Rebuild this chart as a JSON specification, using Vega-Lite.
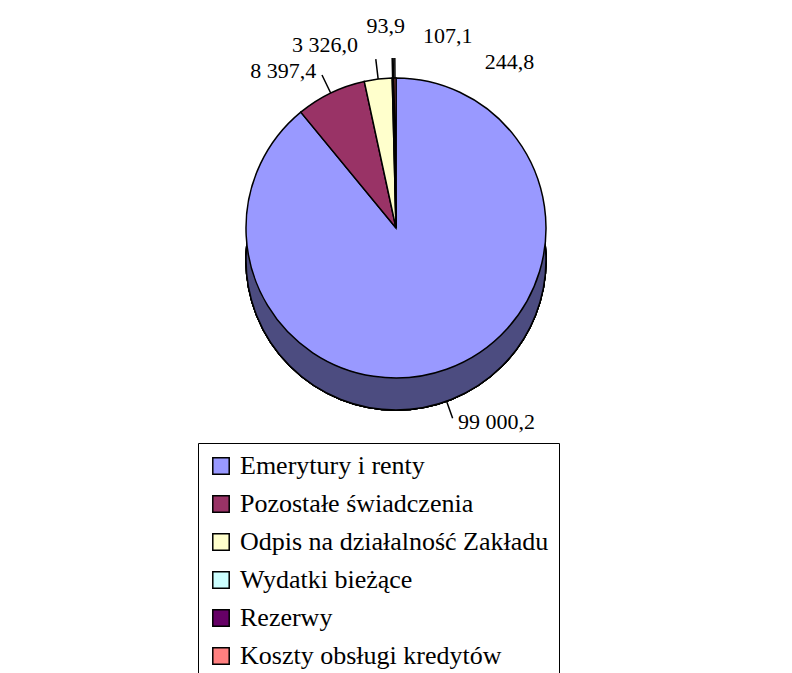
{
  "$schema": "https://vega.github.io/schema/vega-lite/v6.json",
  "width": 792,
  "height": 456,
  "padding": 0,
  "background": "white",
  "data": {"values": [
    {"name": "Emerytury i renty", "value": 99000.2, "order": 1},
    {"name": "Pozostałe świadczenia", "value": 8397.4, "order": 2},
    {"name": "Odpis na działalność Zakładu", "value": 3326.0, "order": 3},
    {"name": "Wydatki bieżące", "value": 93.9, "order": 4},
    {"name": "Rezerwy", "value": 107.1, "order": 5},
    {"name": "Koszty obsługi kredytów", "value": 244.8, "order": 6}
  ]},
  "transform": [
    {"window": [{"op": "sum", "field": "value", "as": "cum"}], "sort": [{"field": "order"}], "frame": [null, 0]},
    {"joinaggregate": [{"op": "sum", "field": "value", "as": "total"}]},
    {"calculate": "(datum.cum - datum.value / 2) / datum.total", "as": "mid"}
  ],
  "layer": [
    {
      "mark": {"type": "arc", "outerRadius": 150, "yOffset": 32, "fill": "#4C4C80", "stroke": "black", "strokeWidth": 1.5},
      "encoding": {}
    },
    {
      "mark": {"type": "arc", "outerRadius": 150, "stroke": "black", "strokeWidth": 1.5},
      "encoding": {
        "theta": {"field": "value", "type": "quantitative", "stack": true},
        "order": {"field": "order", "type": "quantitative"},
        "color": {
          "field": "name", "type": "nominal",
          "scale": {
            "domain": ["Emerytury i renty", "Pozostałe świadczenia", "Odpis na działalność Zakładu", "Wydatki bieżące", "Rezerwy", "Koszty obsługi kredytów"],
            "range": ["#9999FF", "#993366", "#FFFFCC", "#CCFFFF", "#660066", "#FF8080"]
          },
          "legend": {
            "orient": "none", "legendX": 198, "legendY": 443, "title": null,
            "strokeColor": "black", "fillColor": "white", "padding": 10,
            "symbolType": "square", "symbolSize": 270, "symbolStrokeColor": "black", "symbolStrokeWidth": 1.5,
            "labelFont": "Liberation Serif", "labelFontSize": 26, "labelColor": "black",
            "rowPadding": 12, "labelOffset": 6, "labelLimit": 0
          }
        }
      }
    },
    {
      "transform": [{"filter": "datum.order > 1"}],
      "mark": {"type": "arc", "innerRadius": 150, "outerRadius": 170, "stroke": "black", "strokeWidth": 1.5, "fill": null},
      "encoding": {
        "theta": {"field": "mid", "type": "quantitative", "scale": {"domain": [0, 1]}},
        "theta2": {"field": "mid"}
      }
    },
    {
      "transform": [{"filter": "datum.order == 1"}],
      "mark": {"type": "arc", "innerRadius": 150, "outerRadius": 168, "yOffset": 32, "stroke": "black", "strokeWidth": 1.5, "fill": null},
      "encoding": {
        "theta": {"field": "mid", "type": "quantitative", "scale": {"domain": [0, 1]}},
        "theta2": {"field": "mid"}
      }
    },
    {
      "transform": [{"filter": "datum.order == 1"}],
      "mark": {"type": "text", "radius": 172, "yOffset": 32, "align": "left", "baseline": "middle", "dx": 4, "font": "Liberation Serif", "fontSize": 22, "color": "black"},
      "encoding": {
        "theta": {"field": "mid", "type": "quantitative", "scale": {"domain": [0, 1]}},
        "text": {"field": "value", "type": "quantitative", "format": ",.1f"}
      }
    },
    {
      "transform": [{"filter": "datum.order == 2"}],
      "mark": {"type": "text", "radius": 174, "align": "right", "baseline": "middle", "dx": -4, "font": "Liberation Serif", "fontSize": 22, "color": "black"},
      "encoding": {
        "theta": {"field": "mid", "type": "quantitative", "scale": {"domain": [0, 1]}},
        "text": {"field": "value", "type": "quantitative", "format": ",.1f"}
      }
    },
    {
      "transform": [{"filter": "datum.order == 3"}],
      "mark": {"type": "text", "radius": 184, "align": "right", "baseline": "middle", "dx": -16, "font": "Liberation Serif", "fontSize": 22, "color": "black"},
      "encoding": {
        "theta": {"field": "mid", "type": "quantitative", "scale": {"domain": [0, 1]}},
        "text": {"field": "value", "type": "quantitative", "format": ",.1f"}
      }
    },
    {
      "transform": [{"filter": "datum.order == 4"}],
      "mark": {"type": "text", "radius": 184, "align": "center", "baseline": "bottom", "dx": -6, "dy": -6, "font": "Liberation Serif", "fontSize": 22, "color": "black"},
      "encoding": {
        "theta": {"field": "mid", "type": "quantitative", "scale": {"domain": [0, 1]}},
        "text": {"field": "value", "type": "quantitative", "format": ",.1f"}
      }
    },
    {
      "transform": [{"filter": "datum.order == 5"}],
      "mark": {"type": "text", "radius": 184, "align": "left", "baseline": "middle", "dx": 30, "dy": -8, "font": "Liberation Serif", "fontSize": 22, "color": "black"},
      "encoding": {
        "theta": {"field": "mid", "type": "quantitative", "scale": {"domain": [0, 1]}},
        "text": {"field": "value", "type": "quantitative", "format": ",.1f"}
      }
    },
    {
      "transform": [{"filter": "datum.order == 6"}],
      "mark": {"type": "text", "radius": 166, "align": "left", "baseline": "middle", "dx": 90, "font": "Liberation Serif", "fontSize": 22, "color": "black"},
      "encoding": {
        "theta": {"field": "mid", "type": "quantitative", "scale": {"domain": [0, 1]}},
        "text": {"field": "value", "type": "quantitative", "format": ",.1f"}
      }
    }
  ],
  "resolve": {"scale": {"theta": "independent"}},
  "config": {
    "view": {"stroke": null},
    "locale": {"number": {"decimal": ",", "thousands": " ", "grouping": [3], "currency": ["", ""]}}
  }
}
